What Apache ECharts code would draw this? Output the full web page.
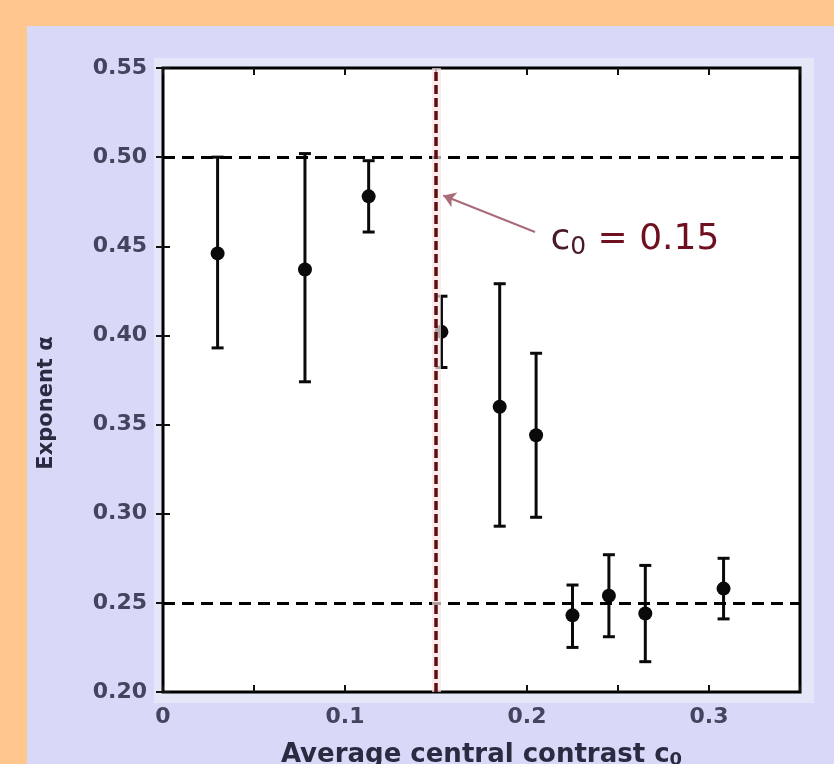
<!DOCTYPE html>
<html>
<head>
<meta charset="utf-8">
<script src="https://cdn.jsdelivr.net/npm/echarts@6/dist/echarts.min.js"></script>
<style>
  html, body { margin: 0; padding: 0; background: #FFC78E; }
  #main { position: absolute; left: 27px; top: 26px; width: 807px; height: 738px; background: #D8D8F8; }
</style>
</head>
<body>
<div id="main"></div>
<script>
// average central contrast c0 for each bin
var contrast = [0.030, 0.078, 0.113, 0.153, 0.185, 0.205, 0.225, 0.245, 0.265, 0.308];
// fitted exponent alpha
var exponent = [0.446, 0.437, 0.478, 0.402, 0.360, 0.344, 0.243, 0.254, 0.244, 0.258];
// error bar ends
var errLow  = [0.393, 0.374, 0.458, 0.382, 0.293, 0.298, 0.225, 0.231, 0.217, 0.241];
var errHigh = [0.500, 0.502, 0.498, 0.422, 0.429, 0.390, 0.260, 0.277, 0.271, 0.275];
// reference levels and threshold
var refLevels = [0.50, 0.25];
var threshold = 0.15;
// annotation arrow (tail, head) in data units
var arrowTail = [0.2044, 0.458];
var arrowHead = [0.154, 0.4785];
var labelAt = [0.2126, 0.4535];

var font = 'DejaVu Sans';
var points = contrast.map(function (x, i) { return [x, exponent[i]]; });
var bars = contrast.map(function (x, i) { return [x, errLow[i], errHigh[i]]; });

var chart = echarts.init(document.getElementById('main'));

var tickStyle = { show: true, inside: true, length: 7, lineStyle: { color: '#111', width: 2 } };

chart.setOption({
    animation: false,
    graphic: [{
        type: 'rect', z: -1,
        shape: { x: 127, y: 32, width: 660, height: 645 },
        style: { fill: '#E6E6F9' }
    }],
    grid: {
        left: 136, right: 34, top: 42, bottom: 72,
        outerBoundsMode: 'none', containLabel: false,
        show: true, backgroundColor: '#FFFFFF', borderColor: '#000', borderWidth: 3
    },
    xAxis: [{
        type: 'value', position: 'bottom', min: 0, max: 0.35, interval: 0.05,
        axisLine: { show: false }, axisTick: tickStyle, splitLine: { show: false },
        axisLabel: {
            margin: 14, fontFamily: font, fontWeight: 'bold', fontSize: 22, color: '#44445E',
            formatter: function (v) {
                var t = Math.round(v * 100);
                if (t % 10 !== 0) return '';
                return t === 0 ? '0' : (t / 100).toFixed(1);
            }
        },
        name: 'Average central contrast c{s|0}',
        nameLocation: 'middle', nameGap: 49,
        nameTextStyle: {
            fontFamily: font, fontWeight: 'bold', fontSize: 26, color: '#2A2A40',
            rich: { s: { fontFamily: font, fontWeight: 'bold', fontSize: 18, color: '#2A2A40', padding: [10, 0, 0, 0] } }
        }
    }, {
        type: 'value', position: 'top', min: 0, max: 0.35, interval: 0.05,
        axisLine: { show: false }, axisTick: tickStyle, axisLabel: { show: false }, splitLine: { show: false }
    }],
    yAxis: [{
        type: 'value', position: 'left', min: 0.2, max: 0.55, interval: 0.05,
        axisLine: { show: false }, axisTick: tickStyle, splitLine: { show: false },
        axisLabel: {
            margin: 16, fontFamily: font, fontWeight: 'bold', fontSize: 22, color: '#44445E',
            formatter: function (v) { return v.toFixed(2); }
        },
        name: 'Exponent α', nameLocation: 'middle', nameGap: 106, nameRotate: 90,
        nameTextStyle: { fontFamily: font, fontWeight: 'bold', fontSize: 21, color: '#2A2A40', padding: [0, 46, 0, 0] }
    }, {
        type: 'value', position: 'right', min: 0.2, max: 0.55, interval: 0.05,
        axisLine: { show: false }, axisTick: tickStyle, axisLabel: { show: false }, splitLine: { show: false }
    }],
    series: [{
        // reference lines and threshold
        type: 'line', data: [], silent: true,
        markLine: {
            silent: true, symbol: 'none', label: { show: false },
            data: refLevels.map(function (v) {
                return { yAxis: v, lineStyle: { color: '#000', width: 3, type: [12, 7] } };
            }).concat([
                { xAxis: threshold, lineStyle: { color: '#FBE2E5', width: 9, type: 'solid', opacity: 0.7 } },
                { xAxis: threshold, lineStyle: { color: '#5A1010', width: 3.5, type: [9, 4] } }
            ])
        }
    }, {
        type: 'custom', silent: true,
        data: bars,
        renderItem: function (params, api) {
            var x = api.value(0);
            var lo = api.coord([x, api.value(1)]);
            var hi = api.coord([x, api.value(2)]);
            var w = 6;
            var st = { stroke: '#0A0A0A', lineWidth: 3 };
            return {
                type: 'group',
                children: [
                    { type: 'line', shape: { x1: lo[0], y1: lo[1], x2: hi[0], y2: hi[1] }, style: st },
                    { type: 'line', shape: { x1: lo[0] - w, y1: lo[1], x2: lo[0] + w, y2: lo[1] }, style: st },
                    { type: 'line', shape: { x1: hi[0] - w, y1: hi[1], x2: hi[0] + w, y2: hi[1] }, style: st }
                ]
            };
        },
        z: 3
    }, {
        type: 'scatter', data: points, symbol: 'circle', symbolSize: 14,
        itemStyle: { color: '#0A0A0A', opacity: 1 }, z: 4
    }, {
        // annotation
        type: 'line', data: [], silent: true,
        markLine: {
            silent: true, symbol: ['none', 'arrow'], symbolSize: 12, label: { show: false },
            lineStyle: { color: '#A86C7A', width: 2, type: 'solid' },
            data: [[{ coord: arrowTail }, { coord: arrowHead }]]
        },
        markPoint: {
            silent: true, symbol: 'circle', symbolSize: 1, itemStyle: { color: 'rgba(0,0,0,0)' },
            data: [{ coord: labelAt }],
            label: {
                show: true, position: 'right', distance: 0,
                formatter: '{c|c}{s|0}{e| = 0.15}',
                rich: {
                    c: { fontFamily: font, fontSize: 36, color: '#4A1A26' },
                    s: { fontFamily: font, fontSize: 25, color: '#4A1A26', padding: [14, 0, 0, 0] },
                    e: { fontFamily: font, fontSize: 36, color: '#6E1020' }
                }
            }
        }
    }]
});
</script>
</body>
</html>
